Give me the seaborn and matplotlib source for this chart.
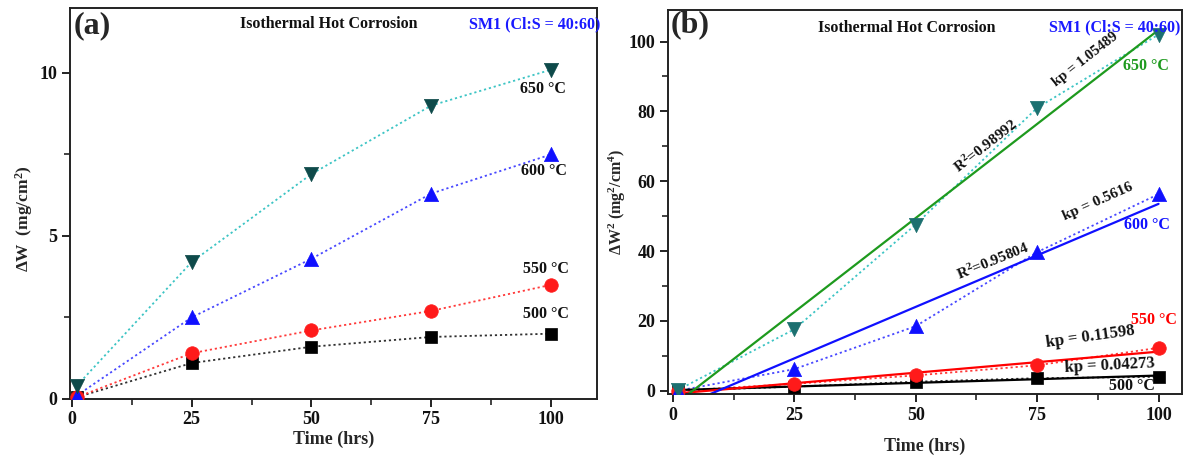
import numpy as np
import pandas as pd
import matplotlib
matplotlib.use("Agg")
import matplotlib.pyplot as plt
from matplotlib.ticker import MultipleLocator
import seaborn as sns

# ---------------- data ----------------
time_hrs = [1, 25, 50, 75, 100]
temp_labels = ["500 °C", "550 °C", "600 °C", "650 °C"]

# (a) mass gain  dW (mg/cm^2)
dw_500 = [0.05, 1.1, 1.6, 1.9, 2.0]
dw_550 = [0.05, 1.4, 2.1, 2.7, 3.5]
dw_600 = [0.1, 2.5, 4.3, 6.3, 7.5]
dw_650 = [0.4, 4.2, 6.9, 9.0, 10.1]

# (b) squared mass gain dW^2 (mg^2/cm^4)
dw2_500 = [0.0, 1.2, 2.6, 3.6, 4.0]
dw2_550 = [0.0, 2.0, 4.4, 7.3, 12.3]
dw2_600 = [0.0, 6.2, 18.5, 39.7, 56.3]
dw2_650 = [0.2, 17.6, 47.6, 81.0, 102.0]

kp_labels = ["kp = 0.04273", "kp = 0.11598", "kp = 0.5616", "kp = 1.05489"]
r2_labels = ["R$^{2}$=0.95804", "R$^{2}$=0.98992"]
x_ticks = [0, 25, 50, 75, 100]
y_ticks_a = [0, 5, 10]
y_ticks_b = [0, 20, 40, 60, 80, 100]

# ---------------- style ----------------
sns.set_theme(style="ticks")
plt.rcParams["font.family"] = ["Liberation Serif", "DejaVu Serif"]
plt.rcParams["font.weight"] = "bold"
plt.rcParams["axes.labelweight"] = "bold"
plt.rcParams["mathtext.fontset"] = "custom"
plt.rcParams["mathtext.rm"] = "Liberation Serif:bold"
plt.rcParams["mathtext.bf"] = "Liberation Serif:bold"
plt.rcParams["mathtext.it"] = "Liberation Serif:bold"
plt.rcParams["mathtext.default"] = "bf"

fig = plt.figure(figsize=(11.95, 4.59), dpi=100)
ax_a = fig.add_axes([0.0586, 0.131, 0.441, 0.852])
ax_b = fig.add_axes([0.559, 0.141, 0.430, 0.837])

marker_shapes = ["s", "o", "^", "v"]
marker_sizes = [75, 95, 105, 105]
marker_cols_a = ["#000000", "#ff1a1a", "#1010ff", "#0e4a4a"]
marker_cols_b = ["#000000", "#ff1a1a", "#1010ff", "#1c7070"]
dot_cols = ["#303030", "#ff3a3a", "#4848ff", "#3cc4c4"]
fit_cols = ["#000000", "#ff0000", "#1010ff", "#1e9a1e"]

series_a = [dw_500, dw_550, dw_600, dw_650]
series_b = [dw2_500, dw2_550, dw2_600, dw2_650]

# ---------- panel (a) ----------
for i, ys in enumerate(series_a):
    sns.lineplot(x=time_hrs, y=ys, ax=ax_a, color=dot_cols[i], linestyle=(0, (1.2, 1.6)),
                 linewidth=1.3, errorbar=None, sort=False, zorder=2)
    sns.scatterplot(x=time_hrs, y=ys, ax=ax_a, color=marker_cols_a[i], marker=marker_shapes[i],
                    s=marker_sizes[i], edgecolor=marker_cols_a[i], linewidth=0.5, zorder=3)

ax_a.set_xlim(-0.4, 109.6)
ax_a.set_ylim(0, 12.0)
ax_a.set_xticks(x_ticks)
ax_a.set_yticks(y_ticks_a)
ax_a.xaxis.set_minor_locator(MultipleLocator(12.5))
ax_a.yaxis.set_minor_locator(MultipleLocator(2.5))
ax_a.set_xlabel("Time (hrs)", fontsize=13, fontweight="bold", labelpad=2)
ax_a.set_ylabel("ΔW  (mg/cm$^{2}$)", fontsize=12.5, fontweight="bold")
ax_a.yaxis.set_label_coords(-0.066, 0.46)

temp_pos_a = [(99.0, 2.6), (99.0, 3.98), (98.6, 7.0), (98.4, 9.5)]
for i, (tx, ty) in enumerate(temp_pos_a):
    ax_a.text(tx, ty, temp_labels[i], fontsize=11.5, fontweight="bold", color="#111111",
              ha="center", va="center")

ax_a.text(0.006, 0.99, "(a)", transform=ax_a.transAxes, fontsize=23, fontweight="bold",
          ha="left", va="top")
ax_a.text(0.49, 0.978, "Isothermal Hot Corrosion", transform=ax_a.transAxes, fontsize=11.5,
          fontweight="bold", ha="center", va="top", color="#111111")
ax_a.text(1.006, 0.978, "SM1 (Cl:S = 40:60)", transform=ax_a.transAxes, fontsize=11.5,
          fontweight="bold", ha="right", va="top", color="#1a1aff")

# ---------- panel (b) ----------
for i, ys in enumerate(series_b):
    sns.lineplot(x=time_hrs, y=ys, ax=ax_b, color=dot_cols[i], linestyle=(0, (1.2, 1.6)),
                 linewidth=1.3, errorbar=None, sort=False, zorder=2)
    sns.regplot(x=np.array(time_hrs, dtype=float), y=np.array(ys, dtype=float), ax=ax_b,
                scatter=False, ci=None, truncate=True, color=fit_cols[i],
                line_kws={"linewidth": 1.6, "zorder": 2.5})
    sns.scatterplot(x=time_hrs, y=ys, ax=ax_b, color=marker_cols_b[i], marker=marker_shapes[i],
                    s=marker_sizes[i], edgecolor=marker_cols_b[i], linewidth=0.5, zorder=3)

ax_b.set_xlim(-1.0, 104.8)
ax_b.set_ylim(-1.0, 109.0)
ax_b.set_xticks(x_ticks)
ax_b.set_yticks(y_ticks_b)
ax_b.xaxis.set_minor_locator(MultipleLocator(12.5))
ax_b.yaxis.set_minor_locator(MultipleLocator(10))
ax_b.set_xlabel("Time (hrs)", fontsize=13, fontweight="bold", labelpad=10)
ax_b.set_ylabel("ΔW$^{2}$ (mg$^{2}$/cm$^{4}$)", fontsize=11.5, fontweight="bold")
ax_b.yaxis.set_label_coords(-0.078, 0.5)

temp_pos_b = [(94.5, 1.4), (99.0, 20.4), (97.6, 47.6), (97.4, 93.0)]
for i, (tx, ty) in enumerate(temp_pos_b):
    ax_b.text(tx, ty, temp_labels[i], fontsize=11.5, fontweight="bold",
              color=fit_cols[i] if i else "#111111", ha="center", va="center")

kp_pos_b = [(90.0, 7.1, 3), (86.0, 15.5, 8), (87.6, 54.2, 24), (85.0, 95.0, 38)]
kp_sizes = [12, 12, 11, 10.5]
for i, (tx, ty, rot) in enumerate(kp_pos_b):
    ax_b.text(tx, ty, kp_labels[i], fontsize=kp_sizes[i], fontweight="bold",
              color="#111111", ha="center", va="center", rotation=rot)

r2_pos_b = [(66.0, 37.0, 22), (64.5, 70.0, 38)]
for i, (tx, ty, rot) in enumerate(r2_pos_b):
    ax_b.text(tx, ty, r2_labels[i], fontsize=11, fontweight="bold",
              color="#111111", ha="center", va="center", rotation=rot)

ax_b.text(0.006, 1.0, "(b)", transform=ax_b.transAxes, fontsize=23, fontweight="bold",
          ha="left", va="top")
ax_b.text(0.465, 0.975, "Isothermal Hot Corrosion", transform=ax_b.transAxes, fontsize=11.5,
          fontweight="bold", ha="center", va="top", color="#111111")
ax_b.text(0.998, 0.975, "SM1 (Cl:S = 40:60)", transform=ax_b.transAxes, fontsize=11.5,
          fontweight="bold", ha="right", va="top", color="#1a1aff")

for ax in (ax_a, ax_b):
    for sp in ax.spines.values():
        sp.set_linewidth(1.4)
        sp.set_color("#222222")
    ax.tick_params(axis="both", which="major", direction="out", length=6, width=1.3,
                   labelsize=13, colors="#111111", pad=3)
    ax.tick_params(axis="both", which="minor", direction="out", length=4, width=1.1,
                   colors="#111111")
    for lab in ax.get_xticklabels() + ax.get_yticklabels():
        lab.set_fontweight("bold")
    ax.grid(False)

fig.savefig("out.png", dpi=100)
